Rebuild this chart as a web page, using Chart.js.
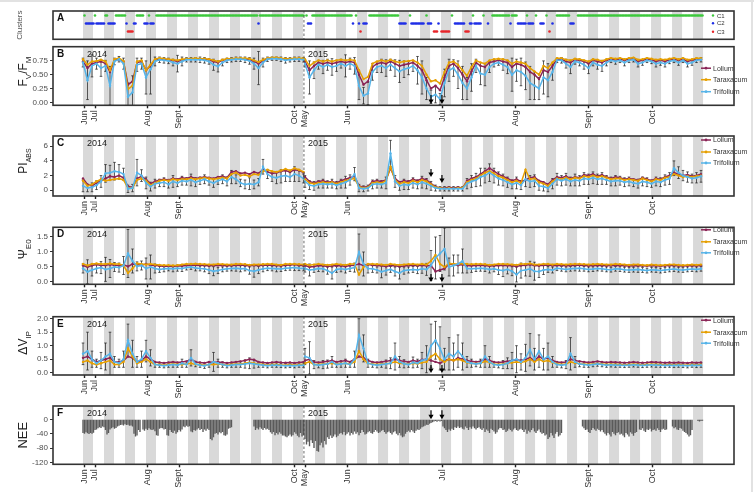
<!DOCTYPE html>
<html>
<head>
<meta charset="utf-8">
<script src="https://cdn.jsdelivr.net/npm/chart.js@4.4.1/dist/chart.umd.min.js"></script>
<style>
  html, body { margin: 0; padding: 0; background: #fff; }
  body { width: 754px; height: 492px; position: relative; overflow: hidden; }
  canvas { position: absolute; left: 0; }
  .edge-top { position: absolute; left: 0; top: 0; width: 754px; height: 2px; background: #e2e2e2; }
  .edge-right { position: absolute; left: 751px; top: 0; width: 2px; height: 492px; background: #e2e2e2; }
</style>
</head>
<body>
<div class="edge-top"></div>
<div class="edge-right"></div>
<canvas id="panelA"></canvas>
<canvas id="panelB"></canvas>
<canvas id="panelC"></canvas>
<canvas id="panelD"></canvas>
<canvas id="panelE"></canvas>
<canvas id="panelF"></canvas>
<script>
// Field season 2014 + 2015, one x unit = one measurement day

const monthLabels = ['Jun', 'Jul', 'Aug', 'Sept', 'Oct', 'May', 'Jun', 'Jul', 'Aug', 'Sept', 'Oct'];
const monthDays = [0.7, 8, 43, 64, 141.3, 148, 176.5, 239.5, 288.5, 337.3, 379.5];
const seasonBreak = 147.3;
const treatmentDays = [232, 239.3];
const speciesNames = ['Lolium', 'Taraxacum', 'Trifolium'];

// cluster membership per day, as [first, last] day runs
const c1Runs = [[1,1],[8,8],[15,16],[22,28],[36,40],[44,44],[49,116],[118,147],[149,149],[153,179],[182,182],[191,210],[218,218],[229,229],[246,246],[260,260],[267,267],[273,284],[286,289],[296,296],[302,302],[309,309],[316,324],[330,413]];
const c2Runs = [[2,7],[9,14],[17,21],[29,29],[34,35],[41,43],[45,47],[117,117],[150,152],[180,180],[184,184],[187,189],[211,215],[219,227],[230,232],[237,237],[248,254],[258,259],[261,265],[270,270],[285,285],[290,295],[297,300],[305,307],[313,313],[325,327]];
const c3Runs = [[30,33],[185,185],[234,236],[239,244],[255,257],[311,311]];

// every third day: first 50 values are 2014, the next 89 are 2015
const fvfmLolium = [
  0.74,0.62,0.70,0.72,0.74,0.70,0.55,0.76,0.78,0.74, 0.32,0.38,0.72,0.74,0.58,0.66,0.76,0.78,0.78,0.77,
  0.76,0.74,0.76,0.78,0.78,0.78,0.78,0.78,0.77,0.74, 0.72,0.76,0.78,0.78,0.79,0.79,0.78,0.77,0.74,0.70,
  0.75,0.79,0.80,0.80,0.79,0.78,0.78,0.79,0.78,0.78,
  0.74,0.58,0.66,0.72,0.70,0.72,0.70,0.72,0.74,0.72, 0.74,0.72,0.50,0.32,0.38,0.64,0.70,0.72,0.70,0.74,
  0.70,0.66,0.68,0.70,0.72,0.66,0.58,0.40,0.25,0.30, 0.22,0.45,0.66,0.70,0.62,0.50,0.38,0.56,0.72,0.66,
  0.64,0.72,0.74,0.76,0.74,0.72,0.64,0.70,0.68,0.64, 0.55,0.50,0.42,0.58,0.55,0.66,0.78,0.78,0.74,0.72,
  0.77,0.76,0.74,0.70,0.76,0.74,0.72,0.76,0.78,0.77, 0.78,0.76,0.78,0.79,0.74,0.76,0.78,0.77,0.74,0.76,
  0.74,0.77,0.78,0.76,0.78,0.74,0.76,0.78,0.78
];
const fvfmTaraxacum = [
  0.78,0.68,0.74,0.75,0.77,0.74,0.58,0.78,0.80,0.75, 0.24,0.30,0.74,0.76,0.58,0.68,0.78,0.80,0.79,0.78,
  0.77,0.76,0.78,0.79,0.79,0.80,0.79,0.79,0.78,0.76, 0.74,0.77,0.79,0.79,0.80,0.80,0.80,0.79,0.76,0.73,
  0.77,0.80,0.81,0.81,0.80,0.79,0.79,0.80,0.80,0.80,
  0.78,0.66,0.72,0.76,0.74,0.76,0.74,0.76,0.77,0.76, 0.77,0.76,0.58,0.42,0.46,0.70,0.74,0.76,0.74,0.77,
  0.74,0.72,0.74,0.75,0.76,0.72,0.66,0.50,0.38,0.40, 0.34,0.55,0.72,0.74,0.68,0.58,0.48,0.64,0.76,0.72,
  0.70,0.76,0.78,0.79,0.78,0.76,0.70,0.74,0.72,0.70, 0.62,0.56,0.50,0.66,0.62,0.72,0.80,0.80,0.77,0.76,
  0.79,0.78,0.76,0.74,0.78,0.77,0.75,0.78,0.80,0.79, 0.80,0.78,0.80,0.81,0.77,0.78,0.80,0.79,0.77,0.78,
  0.77,0.79,0.80,0.78,0.80,0.77,0.78,0.80,0.80
];
const fvfmTrifolium = [
  0.72,0.40,0.66,0.70,0.62,0.66,0.30,0.74,0.78,0.70, 0.10,0.18,0.68,0.70,0.45,0.60,0.74,0.77,0.76,0.75,
  0.72,0.70,0.74,0.77,0.77,0.77,0.77,0.76,0.74,0.68, 0.65,0.72,0.76,0.77,0.78,0.78,0.77,0.75,0.70,0.62,
  0.72,0.78,0.79,0.79,0.78,0.76,0.77,0.78,0.78,0.77,
  0.70,0.45,0.58,0.68,0.64,0.68,0.64,0.66,0.70,0.66, 0.70,0.66,0.30,0.12,0.16,0.55,0.64,0.66,0.62,0.68,
  0.62,0.56,0.60,0.62,0.66,0.58,0.45,0.25,0.10,0.14, 0.06,0.35,0.58,0.62,0.50,0.35,0.25,0.45,0.66,0.52,
  0.50,0.64,0.70,0.72,0.68,0.64,0.50,0.58,0.55,0.48, 0.35,0.30,0.25,0.45,0.40,0.55,0.76,0.76,0.70,0.64,
  0.74,0.72,0.68,0.62,0.72,0.68,0.66,0.72,0.76,0.74, 0.76,0.72,0.76,0.77,0.70,0.72,0.76,0.74,0.70,0.72,
  0.70,0.74,0.76,0.72,0.76,0.70,0.72,0.76,0.77
];
const fvfmErr = [
  0.08,0.35,0.20,0.10,0.15,0.10,0.35,0.06,0.05,0.10, 0.25,0.30,0.12,0.10,0.30,0.45,0.08,0.05,0.05,0.05,
  0.06,0.15,0.08,0.04,0.04,0.04,0.05,0.05,0.05,0.10, 0.10,0.06,0.04,0.04,0.04,0.04,0.05,0.06,0.10,0.30,
  0.08,0.04,0.03,0.03,0.04,0.05,0.04,0.04,0.04,0.04,
  0.06,0.30,0.15,0.08,0.12,0.10,0.15,0.10,0.08,0.20, 0.10,0.15,0.25,0.15,0.20,0.15,0.10,0.12,0.15,0.10,
  0.15,0.20,0.15,0.12,0.10,0.25,0.30,0.20,0.12,0.15, 0.10,0.25,0.20,0.15,0.25,0.30,0.20,0.25,0.12,0.20,
  0.20,0.10,0.06,0.05,0.10,0.12,0.30,0.20,0.25,0.25, 0.30,0.25,0.20,0.30,0.30,0.15,0.04,0.05,0.08,0.12,
  0.05,0.06,0.08,0.10,0.06,0.08,0.10,0.06,0.04,0.05, 0.04,0.06,0.04,0.04,0.06,0.05,0.04,0.04,0.06,0.05,
  0.06,0.04,0.04,0.05,0.04,0.06,0.05,0.04,0.04
];

const piLolium = [
  1.6,0.8,0.6,1.0,1.3,1.6,1.9,1.8,2.0,1.7, 0.5,0.4,1.6,1.9,1.5,0.9,1.2,1.4,1.5,1.4,
  1.6,1.5,1.7,1.6,1.8,1.6,1.7,1.8,1.7,1.6, 1.8,1.9,1.7,2.5,2.6,2.3,2.4,2.2,2.5,2.3,
  2.8,2.5,2.3,2.4,2.6,2.7,2.5,2.8,2.7,2.4,
  1.8,1.2,1.0,1.2,1.3,1.1,1.2,1.0,1.3,1.5, 1.7,1.9,0.6,0.4,0.5,1.2,1.3,1.2,1.4,3.0,
  1.6,1.1,1.3,1.2,1.5,1.3,1.6,1.4,0.9,0.5, 0.3,0.3,0.4,0.3,0.4,0.3,1.3,1.6,1.8,2.2,
  2.6,3.0,2.6,2.2,1.9,1.6,1.3,1.5,1.2,1.4, 1.7,1.8,1.3,1.1,0.8,1.4,1.8,1.7,1.9,1.6,
  1.8,1.7,2.1,2.0,2.2,1.9,2.1,1.8,1.6,1.8, 1.7,1.5,1.6,1.5,1.4,1.7,1.5,1.3,1.6,1.5,
  1.8,2.0,2.4,2.2,2.0,2.1,1.9,2.0,2.2
];
const piTaraxacum = [
  1.3,0.6,0.8,1.2,1.5,1.3,1.4,1.5,1.6,1.4, 0.3,0.3,1.4,1.6,1.3,0.7,1.0,1.3,1.4,1.3,
  1.5,1.4,1.5,1.5,1.6,1.5,1.6,1.7,1.6,1.5, 1.6,1.7,1.6,2.2,2.4,2.0,2.1,1.9,2.2,2.1,
  2.6,2.8,2.6,2.5,2.7,2.9,2.7,3.0,2.8,2.5,
  1.5,1.0,0.9,1.0,1.1,1.0,1.1,0.9,1.1,1.3, 1.5,1.6,0.5,0.3,0.4,1.0,1.1,1.0,1.3,3.2,
  1.4,0.9,1.1,1.0,1.3,1.1,1.4,1.2,0.8,0.4, 0.3,0.2,0.3,0.2,0.3,0.3,1.1,1.4,1.6,2.0,
  2.4,2.6,2.3,1.9,1.7,1.4,1.1,1.3,1.0,2.8, 1.5,1.6,1.1,0.9,0.6,1.2,1.6,1.5,1.7,1.5,
  1.7,1.6,1.9,1.8,2.0,1.8,1.9,1.7,1.5,1.6, 1.6,1.4,1.5,1.4,1.3,1.6,1.4,1.2,1.5,1.4,
  1.7,1.8,2.2,2.0,1.8,1.9,1.8,1.9,2.0
];
const piTrifolium = [
  0.6,0.3,0.4,0.7,1.2,2.3,2.4,2.6,2.5,2.2, 0.2,0.3,2.4,2.0,1.0,0.5,0.9,1.0,1.1,0.8,
  1.2,1.0,1.3,1.2,1.4,1.1,1.3,1.5,1.2,1.0, 1.3,1.5,1.2,1.8,1.5,1.0,0.8,0.9,0.8,1.1,
  3.2,2.2,1.8,1.7,1.9,2.0,1.8,2.2,2.0,1.6,
  1.2,0.7,0.6,0.8,0.9,0.8,0.9,0.7,0.9,1.1, 1.4,2.2,0.3,0.2,0.3,0.8,0.9,0.8,1.0,5.0,
  1.2,0.6,0.8,0.7,1.0,0.8,1.1,0.9,0.6,0.3, 0.2,0.2,0.2,0.2,0.2,0.2,0.9,1.2,1.4,1.8,
  2.0,2.4,2.0,1.6,1.4,1.1,0.8,1.0,0.7,1.5, 1.2,1.3,0.6,0.5,0.3,0.9,1.5,1.3,1.5,1.2,
  1.4,1.3,1.6,1.5,1.7,1.5,1.6,1.4,1.2,1.3, 1.3,1.1,1.2,1.0,0.9,1.2,1.1,0.9,1.2,1.1,
  1.4,1.6,3.0,2.4,2.0,1.8,1.6,1.7,1.9
];
const piErr = [
  0.8,0.5,0.6,0.6,0.8,1.2,1.0,1.2,1.0,0.8, 0.5,0.5,1.8,0.8,0.8,0.6,0.6,0.5,0.6,0.5,
  0.8,0.5,0.6,0.5,0.8,0.6,0.5,0.6,0.5,0.6, 0.5,0.6,0.6,0.9,0.6,0.5,0.6,0.8,0.6,0.5,
  1.0,0.6,0.6,0.8,0.9,0.8,0.6,1.0,0.8,0.6,
  0.8,0.6,0.6,0.5,0.6,0.5,0.6,0.5,0.6,0.8, 0.7,0.9,0.5,0.4,0.4,0.6,0.6,0.5,0.8,1.8,
  0.8,0.6,0.7,0.6,0.7,0.6,0.8,0.7,0.6,0.4, 0.3,0.3,0.3,0.3,0.3,0.3,0.7,0.8,0.9,1.2,
  1.0,1.2,1.0,0.9,0.8,0.7,0.6,0.8,0.6,1.0, 0.8,0.8,0.6,0.6,0.5,0.7,0.8,0.7,0.8,0.6,
  0.8,0.7,0.8,0.7,0.8,0.7,0.8,0.6,0.6,0.7, 0.6,0.6,0.6,0.5,0.6,0.6,0.6,0.5,0.6,0.6,
  0.7,0.8,1.0,0.8,0.7,0.7,0.6,0.7,0.8
];

const psiLolium = [
  0.55,0.50,0.55,0.58,0.55,0.56,0.58,0.56,0.55,0.57, 0.52,0.60,0.58,0.56,0.60,0.57,0.55,0.54,0.52,0.53,
  0.52,0.54,0.53,0.55,0.56,0.57,0.56,0.55,0.54,0.55, 0.56,0.55,0.54,0.55,0.56,0.57,0.55,0.54,0.56,0.55,
  0.56,0.57,0.56,0.55,0.54,0.56,0.57,0.58,0.56,0.55,
  0.55,0.50,0.52,0.55,0.54,0.52,0.53,0.55,0.54,0.52, 0.55,0.56,0.60,0.55,0.58,0.56,0.55,0.54,0.52,0.55,
  0.54,0.52,0.53,0.55,0.56,0.55,0.56,0.54,0.55,0.35, 0.40,0.45,0.60,0.58,0.56,0.58,0.55,0.54,0.55,0.56,
  0.55,0.53,0.54,0.55,0.56,0.55,0.54,0.52,0.55,0.56, 0.58,0.55,0.54,0.56,0.57,0.55,0.56,0.55,0.54,0.55,
  0.56,0.56,0.55,0.54,0.55,0.56,0.55,0.54,0.55,0.56, 0.55,0.54,0.53,0.54,0.55,0.54,0.53,0.55,0.54,0.53,
  0.54,0.55,0.55,0.54,0.53,0.54,0.55,0.54,0.55
];
const psiTaraxacum = [
  0.60,0.55,0.60,0.62,0.60,0.60,0.62,0.60,0.60,0.55, 0.30,0.45,0.62,0.60,0.58,0.60,0.58,0.57,0.56,0.56,
  0.55,0.56,0.58,0.60,0.60,0.61,0.60,0.59,0.58,0.58, 0.60,0.59,0.58,0.58,0.60,0.60,0.59,0.57,0.58,0.58,
  0.59,0.60,0.60,0.58,0.57,0.60,0.60,0.60,0.59,0.58,
  0.60,0.56,0.58,0.60,0.58,0.57,0.58,0.60,0.58,0.57, 0.60,0.60,0.25,0.50,0.60,0.60,0.59,0.58,0.57,0.60,
  0.58,0.57,0.58,0.59,0.60,0.58,0.60,0.58,0.70,0.90, 0.60,0.50,0.62,0.60,0.60,0.62,0.60,0.59,0.60,0.60,
  0.59,0.57,0.58,0.60,0.60,0.59,0.58,0.57,0.60,0.60, 0.62,0.58,0.58,0.60,0.60,0.58,0.60,0.59,0.58,0.59,
  0.60,0.60,0.59,0.58,0.59,0.60,0.59,0.58,0.58,0.60, 0.59,0.58,0.57,0.58,0.58,0.57,0.56,0.58,0.57,0.56,
  0.57,0.58,0.58,0.57,0.56,0.57,0.58,0.57,0.58
];
const psiTrifolium = [
  0.45,0.34,0.40,0.45,0.48,0.42,0.45,0.50,0.48,0.55, 0.95,0.70,0.52,0.55,0.45,0.50,0.45,0.42,0.44,0.45,
  0.44,0.46,0.45,0.48,0.50,0.47,0.45,0.44,0.40,0.36, 0.38,0.42,0.44,0.45,0.46,0.44,0.45,0.38,0.36,0.40,
  0.44,0.46,0.45,0.44,0.43,0.46,0.47,0.48,0.46,0.45,
  0.45,0.40,0.42,0.45,0.44,0.38,0.30,0.42,0.44,0.42, 0.45,0.48,1.00,0.60,0.45,0.44,0.40,0.34,0.38,0.42,
  0.35,0.30,0.38,0.40,0.42,0.40,0.44,0.42,0.55,0.80, 0.95,1.10,0.50,0.55,0.60,0.70,0.45,0.44,0.45,0.46,
  0.45,0.42,0.44,0.40,0.38,0.42,0.36,0.25,0.38,0.40, 0.44,0.36,0.35,0.40,0.42,0.40,0.46,0.44,0.42,0.44,
  0.45,0.46,0.44,0.42,0.43,0.45,0.44,0.42,0.41,0.44, 0.43,0.41,0.40,0.41,0.42,0.40,0.38,0.41,0.40,0.38,
  0.40,0.42,0.43,0.41,0.40,0.42,0.43,0.42,0.44
];
const psiErr = [
  0.15,0.40,0.20,0.15,0.20,0.40,0.30,0.15,0.15,0.30, 0.80,0.40,0.15,0.15,0.35,0.40,0.15,0.10,0.10,0.08,
  0.10,0.10,0.10,0.08,0.08,0.10,0.08,0.10,0.12,0.15, 0.10,0.08,0.08,0.08,0.10,0.10,0.08,0.12,0.20,0.12,
  0.10,0.08,0.08,0.10,0.08,0.08,0.08,0.10,0.08,0.08,
  0.12,0.20,0.10,0.10,0.10,0.12,0.20,0.10,0.10,0.12, 0.10,0.15,0.60,0.40,0.15,0.12,0.10,0.20,0.15,0.10,
  0.15,0.20,0.12,0.10,0.10,0.12,0.15,0.20,0.50,0.70, 0.60,0.70,0.30,0.35,0.30,0.40,0.15,0.12,0.10,0.10,
  0.10,0.12,0.10,0.15,0.20,0.15,0.15,0.25,0.25,0.20, 0.25,0.30,0.20,0.15,0.10,0.10,0.08,0.08,0.08,0.08,
  0.08,0.10,0.08,0.08,0.08,0.08,0.08,0.08,0.08,0.08, 0.08,0.08,0.08,0.08,0.10,0.08,0.08,0.08,0.08,0.08,
  0.08,0.08,0.08,0.08,0.08,0.08,0.08,0.08,0.08
];

const dvipLolium = [
  0.55,0.60,0.50,0.40,0.45,0.50,0.55,0.40,0.40,0.45, 0.60,0.55,0.40,0.45,0.60,0.50,0.40,0.38,0.36,0.38,
  0.40,0.38,0.40,0.42,0.50,0.40,0.38,0.36,0.40,0.38, 0.40,0.38,0.36,0.38,0.40,0.42,0.45,0.50,0.48,0.40,
  0.38,0.36,0.38,0.40,0.38,0.37,0.38,0.36,0.38,0.40,
  0.45,0.50,0.40,0.38,0.40,0.42,0.45,0.40,0.42,0.45, 0.40,0.50,0.60,0.55,0.45,0.40,0.38,0.40,0.42,0.45,
  0.50,0.45,0.42,0.40,0.45,0.42,0.48,0.50,0.45,0.40, 0.35,0.45,0.50,0.45,0.55,0.50,0.45,0.42,0.40,0.42,
  0.50,0.45,0.40,0.38,0.40,0.42,0.45,0.48,0.45,0.50, 0.55,0.45,0.60,0.50,0.55,0.45,0.40,0.38,0.40,0.50,
  0.45,0.42,0.40,0.38,0.40,0.42,0.40,0.38,0.40,0.39, 0.38,0.37,0.38,0.40,0.38,0.37,0.38,0.40,0.39,0.38,
  0.37,0.38,0.37,0.38,0.37,0.36,0.38,0.37,0.38
];
const dvipTaraxacum = [
  0.40,0.45,0.35,0.30,0.35,0.40,0.45,0.30,0.30,0.40, 0.90,0.60,0.35,0.40,0.50,0.40,0.30,0.30,0.28,0.30,
  0.32,0.30,0.30,0.32,0.35,0.30,0.30,0.28,0.30,0.30, 0.32,0.30,0.28,0.30,0.32,0.32,0.35,0.38,0.35,0.32,
  0.30,0.28,0.30,0.30,0.29,0.28,0.30,0.28,0.30,0.30,
  0.35,0.40,0.30,0.30,0.32,0.33,0.35,0.32,0.33,0.35, 0.32,0.40,0.80,0.50,0.35,0.32,0.30,0.32,0.33,0.35,
  0.40,0.35,0.33,0.32,0.35,0.33,0.38,0.40,0.60,0.70, 0.50,0.40,0.50,0.45,0.50,0.45,0.38,0.35,0.33,0.35,
  0.42,0.38,0.32,0.30,0.32,0.35,0.38,0.40,0.38,0.42, 0.50,0.40,0.50,0.42,0.45,0.38,0.33,0.30,0.32,0.40,
  0.36,0.33,0.32,0.30,0.32,0.33,0.32,0.30,0.31,0.30, 0.30,0.29,0.30,0.31,0.30,0.29,0.30,0.31,0.30,0.30,
  0.29,0.30,0.29,0.30,0.29,0.28,0.30,0.29,0.30
];
const dvipTrifolium = [
  0.70,0.80,0.50,0.35,0.45,0.60,0.70,0.40,0.35,0.50, 1.20,0.70,0.40,0.50,0.80,0.55,0.30,0.28,0.26,0.28,
  0.30,0.28,0.35,0.30,0.55,0.32,0.28,0.26,0.30,0.40, 0.35,0.30,0.26,0.28,0.30,0.30,0.32,0.35,0.32,0.30,
  0.28,0.26,0.28,0.28,0.27,0.26,0.27,0.26,0.28,0.28,
  0.60,0.55,0.30,0.28,0.30,0.32,0.40,0.30,0.32,0.35, 0.30,0.50,1.40,0.90,0.35,0.30,0.28,0.30,0.32,0.35,
  0.60,0.40,0.33,0.30,0.38,0.35,0.45,0.50,1.00,1.20, 0.90,0.50,0.70,0.60,0.80,0.60,0.40,0.35,0.32,0.35,
  0.60,0.40,0.30,0.28,0.30,0.35,0.45,0.50,0.40,0.55, 0.85,0.50,0.80,0.50,0.60,0.40,0.30,0.28,0.30,0.70,
  0.40,0.32,0.30,0.28,0.30,0.32,0.30,0.28,0.29,0.28, 0.28,0.27,0.28,0.29,0.28,0.27,0.28,0.29,0.28,0.28,
  0.27,0.28,0.27,0.28,0.27,0.26,0.28,0.27,0.28
];
const dvipErr = [
  0.40,0.70,0.30,0.15,0.30,0.50,0.80,0.20,0.15,0.30, 0.60,0.50,0.20,0.30,0.40,0.30,0.10,0.08,0.08,0.08,
  0.10,0.08,0.15,0.10,0.30,0.10,0.08,0.10,0.10,0.35, 0.15,0.10,0.08,0.08,0.10,0.10,0.15,0.20,0.15,0.10,
  0.08,0.08,0.08,0.08,0.08,0.08,0.08,0.08,0.08,0.08,
  0.30,0.60,0.15,0.10,0.15,0.15,0.20,0.10,0.12,0.15, 0.10,0.30,0.60,0.50,0.15,0.10,0.10,0.10,0.15,0.20,
  0.50,0.20,0.15,0.10,0.20,0.15,0.30,0.50,0.80,0.70, 0.80,0.40,0.60,0.50,0.60,0.50,0.20,0.15,0.10,0.15,
  0.40,0.20,0.10,0.10,0.15,0.20,0.30,0.50,0.30,0.50, 0.60,0.40,0.60,0.40,0.50,0.20,0.10,0.10,0.15,0.60,
  0.20,0.10,0.10,0.08,0.08,0.08,0.08,0.08,0.08,0.08, 0.08,0.08,0.08,0.08,0.08,0.08,0.08,0.08,0.08,0.08,
  0.08,0.08,0.08,0.08,0.08,0.08,0.08,0.08,0.08
];

// daily net ecosystem exchange, 2014 from day 0 and 2015 from day 148
const nee2014 = [
  -38,-40,-36,-39,-41,-38,-40,-37,-30, -28,-25,-22,-24,-20,-22, -30,-42,-38,-28, -25,-22,-26,-24,-20,
  -18,-16,-15,-17,-14,-16,-15,-18,-17,-20, -40,-48,-45,-30, -35,null, -28,-32,-26,-30,-25,-28,
  -30,-28,-33,-44,-46, -26,-24,-25,-28,-27,-44, -46,-30,-35,-38,-32,-40,-36,-30,-34,-28,
  -20,-22,-18,-21,-19, -34,-36,-30,-32,-28, -25,-30,-27,-35,-28,-32,-26,-30, -55,-58,-50,
  -40,-38,-42,-36,-39,-35, -44,-46,-42, -26,-24,-22,
  null,null,null,null,null,null,null,null,null,null,null,null,null,null,
  -20,-30,-25,-28,-22,-26,-30,-24,-28,-26,-30, -36,-40,-35,-44,-38,-42,-36,-40,-45,
  -45,-48,-50,-46,-42,-48,-44, -36,-40,-46,-50,-38,-48,-44
];
const nee2015 = [
  -55,-70,-62,-75,-58,-66,-80,-60, -88,-90,-72,-65,-78,-60,-70, -50,-55,-45,-52,-48,-42,-50,-46,-40,
  -38,-42,-35,-44,-40,-36,-45,-38,-42,-34,-40,-36,-44,-38,-30,-35,-42,-40,-36,-33,
  -38,-40,-35,-30,-34,-38,-36,-32,-30,-35,-40,-36,-34,-38,-42,-36,-33,-40,-44,
  -38,-45,-50,-48,-40,-35, -32,-36,-30,-34,-38,-32,-28,-30,-26,-22, -20,-18,-15,-16,-12,-10,
  -8,-6,-5,-7,-4,-6,-5, -20,-25,-30,-35,-28,-32,-26,-30,-22,-24,
  -20,-24,-22,-26,-28,-20,-24,-30,-22,-26,-20,-25,-28,-24,-22,-26,
  -30,-25,-35,-28,-32,-38,-26,-30,-34,-40,-36,-28,-24,
  -25,-30,-28,-35,-32,-26,-30,-34,-28,-25,-30,-32,-28,-26,
  -30,-35,-28,-40,-32,-36,-30,-25,-34,-38,-32,-28,-36,-40,-38,-45,
  -42,-55,-50,-38,-45,-52,-40,-35,-48,-44,-38,
  null,null,null,null,null,null,null,null,null,null,null,null,null,
  -20,-25,-30,-28,-35,-38,-30,-24,-28,-32,-26,-30,-34,
  -30,-36,-40,-45,-38,-42,-48,-35,-40,-44,-38,-36,-42,
  -40,-45,-50,-38,-42,-48,-36,-40,-46,-38,-35, null,
  -28,-30,-25,-32,-35,-28,-30,-26,-34,-30,-28,-32,-25,-30,-35,-28,-26,-30,-28,
  null,null,null, -20,-25,-22,-28,-30,-24,-26,-32,-35,-38,-42,-48,-44,-30,
  null,null,null, -5,-6,-5,-4
];

// ---------------------------------------------------------------------------

const FONT = "'Liberation Sans', Arial, Helvetica, sans-serif";
Chart.defaults.font.family = FONT;
Chart.defaults.color = '#333';

const W = 754, LEFT = 53, RIGHT = 734, XAXIS_H = 30;
const speciesColors = ['#8a2456', '#e69f00', '#56b4e9'];
const stripeStarts = [];
for (let k = 0; k < 11; k++) stripeStarts.push(14 * k);
for (let k = 0; k < 19; k++) stripeStarts.push(154.7 + 14 * k);
const STRIPE_LEN = 6.67;

function seq(start, count, step) {
    const out = [];
    for (let i = 0; i < count; i++) out.push(start + i * step);
    return out;
}
const days2014 = seq(0, 50, 3);
const days2015 = seq(148, 89, 3);

function toPoints(values) {
    const pts = days2014.map((d, i) => ({ x: d, y: values[i] }));
    pts.push({ x: seasonBreak, y: null });
    return pts.concat(days2015.map((d, i) => ({ x: d, y: values[days2014.length + i] })));
}

function runsToPoints(runs, level) {
    const pts = [];
    runs.forEach(([a, b]) => {
        for (let d = a; d <= b; d++) pts.push({ x: d, y: level });
    });
    return pts;
}

function speciesSets(lists) {
    return lists.map((vals, i) => ({
        label: speciesNames[i],
        data: toPoints(vals),
        borderColor: speciesColors[i],
        backgroundColor: speciesColors[i],
        borderWidth: 1.5,
        pointRadius: 1.2,
        pointBorderWidth: 0,
        spanGaps: false,
        tension: 0,
        order: 3 - i
    }));
}

function drawRich(ctx, parts, cx, cy, size, subSize, color) {
    ctx.save();
    ctx.translate(cx, cy);
    ctx.rotate(-Math.PI / 2);
    ctx.fillStyle = color;
    ctx.textBaseline = 'alphabetic';
    let total = 0;
    const widths = parts.map(([t, sub]) => {
        ctx.font = (sub ? subSize : size) + 'px ' + FONT;
        const w = ctx.measureText(t).width;
        total += w;
        return w;
    });
    let x = -total / 2;
    parts.forEach(([t, sub], i) => {
        ctx.font = (sub ? subSize : size) + 'px ' + FONT;
        ctx.fillText(t, x, sub ? size * 0.3 : 0);
        x += widths[i];
    });
    ctx.restore();
}

const decorPlugin = {
    id: 'decor',
    beforeDatasetsDraw(chart, args, o) {
        const { ctx, chartArea: a, scales: { x, y } } = chart;
        ctx.save();
        ctx.beginPath();
        ctx.rect(a.left, a.top, a.right - a.left, a.bottom - a.top);
        ctx.clip();
        ctx.fillStyle = '#d9d9d9';
        stripeStarts.forEach(d => {
            const x0 = x.getPixelForValue(d), x1 = x.getPixelForValue(d + STRIPE_LEN);
            ctx.fillRect(x0, a.top, x1 - x0, a.bottom - a.top);
        });
        // error bars around the Trifolium means
        if (o.err) {
            const base = toPoints(o.err.base), err = toPoints(o.err.err);
            ctx.strokeStyle = '#1a1a1a';
            ctx.lineWidth = 0.7;
            base.forEach((p, i) => {
                if (p.y == null) return;
                const e = err[i].y;
                const px = x.getPixelForValue(p.x);
                const y1 = y.getPixelForValue(p.y + e), y2 = y.getPixelForValue(p.y - e);
                ctx.beginPath();
                ctx.moveTo(px, y1); ctx.lineTo(px, y2);
                ctx.moveTo(px - 1.3, y1); ctx.lineTo(px + 1.3, y1);
                ctx.moveTo(px - 1.3, y2); ctx.lineTo(px + 1.3, y2);
                ctx.stroke();
            });
        }
        ctx.restore();
    },
    afterDatasetsDraw(chart, args, o) {
        const { ctx, chartArea: a, scales: { x, y } } = chart;
        ctx.save();
        // season break
        const xs = x.getPixelForValue(seasonBreak);
        ctx.strokeStyle = '#444';
        ctx.lineWidth = 0.8;
        ctx.setLineDash([2.5, 2]);
        ctx.beginPath();
        ctx.moveTo(xs, a.top); ctx.lineTo(xs, a.bottom);
        ctx.stroke();
        ctx.setLineDash([]);

        // frame
        ctx.strokeStyle = '#333';
        ctx.lineWidth = 1.6;
        ctx.strokeRect(a.left, a.top, a.right - a.left, a.bottom - a.top);

        // panel letter and years
        ctx.fillStyle = '#111';
        ctx.textBaseline = 'alphabetic';
        ctx.font = 'bold 10px ' + FONT;
        ctx.fillText(o.letter, a.left + 4, a.top + 10);
        if (o.years) {
            ctx.font = '9px ' + FONT;
            ctx.fillStyle = '#222';
            ctx.fillText('2014', x.getPixelForValue(2.7), a.top + 10);
            ctx.fillText('2015', x.getPixelForValue(150), a.top + 10);
        }

        // species legend
        if (o.legendRows) {
            ctx.font = '7px ' + FONT;
            ctx.textBaseline = 'middle';
            o.legendRows.forEach((dy, i) => {
                const ly = a.top + dy;
                ctx.strokeStyle = speciesColors[i];
                ctx.fillStyle = speciesColors[i];
                ctx.lineWidth = 1.5;
                ctx.beginPath();
                ctx.moveTo(701, ly); ctx.lineTo(711, ly);
                ctx.stroke();
                ctx.beginPath();
                ctx.arc(706, ly, 1.4, 0, Math.PI * 2);
                ctx.fill();
                ctx.fillStyle = '#333';
                ctx.fillText(speciesNames[i], 713, ly + 0.5);
            });
        }

        // cluster legend
        if (o.clusterRows) {
            ctx.font = '6px ' + FONT;
            ctx.textBaseline = 'middle';
            o.clusterRows.forEach((dy, i) => {
                const ly = a.top + dy;
                ctx.fillStyle = o.clusterColors[i];
                ctx.beginPath();
                ctx.arc(713, ly, 1.2, 0, Math.PI * 2);
                ctx.fill();
                ctx.fillStyle = '#333';
                ctx.fillText('C' + (i + 1), 717, ly + 0.5);
            });
        }

        // treatment arrows
        if (o.arrows) {
            ctx.fillStyle = '#000';
            ctx.strokeStyle = '#000';
            ctx.lineWidth = 1.2;
            treatmentDays.forEach((d, i) => {
                const ax = x.getPixelForValue(d);
                const tip = y.getPixelForValue(o.arrows.tips[i]);
                ctx.beginPath();
                ctx.moveTo(ax, tip - o.arrows.len); ctx.lineTo(ax, tip - 3);
                ctx.stroke();
                ctx.beginPath();
                ctx.moveTo(ax - 2.6, tip - 4.5);
                ctx.lineTo(ax + 2.6, tip - 4.5);
                ctx.lineTo(ax, tip);
                ctx.closePath();
                ctx.fill();
            });
        }
        ctx.restore();
    },
    afterDraw(chart, args, o) {
        const { ctx, chartArea: a } = chart;
        const cy = (a.top + a.bottom) / 2 + (o.titleShift || 0);
        drawRich(ctx, o.title, o.titleX || 27, cy, o.titleSize || 12, o.subSize || 8, o.titleColor || '#222');
    }
};

function xAxis(show) {
    return {
        type: 'linear',
        min: -20,
        max: 434,
        display: show,
        offset: false,
        afterBuildTicks: s => { s.ticks = monthDays.map(v => ({ value: v })); },
        afterFit: s => { if (show) s.height = XAXIS_H; },
        ticks: {
            autoSkip: false, minRotation: 90, maxRotation: 90, padding: 2,
            font: { size: 9 }, color: '#333',
            callback: (v, i) => monthLabels[i]
        },
        grid: { drawOnChartArea: false, drawTicks: true, offset: false, tickLength: 3, tickColor: '#222', tickWidth: 1.4 },
        border: { display: false }
    };
}

function yAxis(c, show) {
    return {
        type: 'linear',
        min: c.min,
        max: c.max,
        display: show,
        afterBuildTicks: s => { s.ticks = c.ticks.map(v => ({ value: v })); },
        afterFit: s => { if (show) s.width = LEFT; },
        ticks: { font: { size: 8 }, color: '#4d4d4d', padding: 2, callback: v => c.fmt(v) },
        grid: { drawOnChartArea: false, drawTicks: true, tickLength: 3, tickColor: '#333', tickWidth: 1 },
        border: { display: false }
    };
}

function makePanel(id, frameTop, frameBottom, cfg) {
    const canvas = document.getElementById(id);
    const top = Math.floor(frameTop) - 10;
    const height = Math.ceil(frameBottom) + 34 - top;
    canvas.style.top = top + 'px';
    canvas.width = W;
    canvas.height = height;
    const below = height - (frameBottom - top);
    const showAxes = cfg.showAxes !== false;
    return new Chart(canvas, {
        type: cfg.type || 'line',
        data: { datasets: cfg.datasets },
        options: {
            responsive: false,
            animation: false,
            events: [],
            layout: {
                padding: {
                    left: showAxes ? 0 : LEFT,
                    right: W - RIGHT,
                    top: frameTop - top,
                    bottom: showAxes ? below - XAXIS_H : below
                }
            },
            plugins: { legend: { display: false }, tooltip: { enabled: false }, decor: cfg.decor },
            scales: { x: xAxis(showAxes), y: yAxis(cfg.y, showAxes) }
        },
        plugins: [decorPlugin]
    });
}

const clusterColors = ['#3cc83c', '#1f2ee6', '#e8262b'];

makePanel('panelA', 11, 39.3, {
    type: 'scatter',
    showAxes: false,
    datasets: [c1Runs, c2Runs, c3Runs].map((runs, i) => ({
        label: 'C' + (i + 1),
        data: runsToPoints(runs, 3 - i),
        backgroundColor: clusterColors[i],
        pointRadius: 1.3,
        pointBorderWidth: 0
    })),
    y: { min: 0.03, max: 3.56, ticks: [], fmt: v => '' },
    decor: {
        letter: 'A', title: [['Clusters', 0]], titleSize: 8, titleX: 21.5, titleColor: '#555',
        clusterRows: [4.5, 12.3, 20.7], clusterColors: clusterColors
    }
});

makePanel('panelB', 46.7, 105.3, {
    datasets: speciesSets([fvfmLolium, fvfmTaraxacum, fvfmTrifolium]),
    y: { min: -0.054, max: 1.007, ticks: [0, 0.25, 0.5, 0.75], fmt: v => v.toFixed(2) },
    decor: {
        letter: 'B', years: true, title: [['F', 0], ['V', 1], ['/F', 0], ['M', 1]], titleShift: -4.5,
        legendRows: [21.5, 33, 45], err: { base: fvfmTrifolium, err: fvfmErr },
        arrows: { tips: [-0.03, -0.03], len: 9 }
    }
});

makePanel('panelC', 136, 196, {
    datasets: speciesSets([piLolium, piTaraxacum, piTrifolium]),
    y: { min: -0.78, max: 7.39, ticks: [0, 2, 4, 6], fmt: v => String(v) },
    decor: {
        letter: 'C', years: true, title: [['PI', 0], ['ABS', 1]], subSize: 7, titleShift: -5,
        legendRows: [4, 16, 27], err: { base: piTrifolium, err: piErr },
        arrows: { tips: [1.8, 1.0], len: 8 }
    }
});

makePanel('panelD', 227.3, 284.3, {
    datasets: speciesSets([psiLolium, psiTaraxacum, psiTrifolium]),
    y: { min: -0.077, max: 1.823, ticks: [0, 0.5, 1, 1.5], fmt: v => v.toFixed(1) },
    decor: {
        letter: 'D', years: true, title: [['\u03A8', 0], ['E0', 1]], titleShift: -6.5,
        legendRows: [2.5, 14.5, 25.5], err: { base: psiTrifolium, err: psiErr },
        arrows: { tips: [0, 0], len: 8 }
    }
});

makePanel('panelE', 316.7, 375, {
    datasets: speciesSets([dvipLolium, dvipTaraxacum, dvipTrifolium]),
    y: { min: -0.085, max: 2.074, ticks: [0, 0.5, 1, 1.5, 2], fmt: v => v.toFixed(1) },
    decor: {
        letter: 'E', years: true, title: [['\u0394V', 0], ['IP', 1]], titleShift: -3,
        legendRows: [3.5, 15.5, 26.5], err: { base: dvipTrifolium, err: dvipErr },
        arrows: { tips: [-0.01, -0.01], len: 8 }
    }
});

makePanel('panelF', 406, 464.3, {
    type: 'bar',
    datasets: [{
        label: 'NEE',
        data: nee2014.map((v, i) => ({ x: i, y: v })).concat(nee2015.map((v, i) => ({ x: 148 + i, y: v }))),
        backgroundColor: '#5a5a5a',
        barPercentage: 0.92,
        categoryPercentage: 1,
        borderWidth: 0
    }],
    y: { min: -125, max: 37, ticks: [-120, -80, -40, 0], fmt: v => String(v) },
    decor: {
        letter: 'F', years: true, title: [['NEE', 0]], titleSize: 13,
        arrows: { tips: [0, 0], len: 9 }
    }
});
</script>
</body>
</html>
